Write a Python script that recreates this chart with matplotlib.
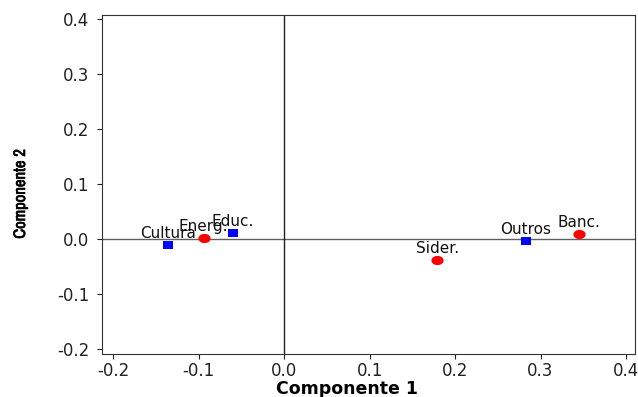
import matplotlib
matplotlib.use("Agg")
import numpy as np
import matplotlib.pyplot as plt
from matplotlib import font_manager
import matplotlib.patheffects as pe

labels = ["Cultura", "Energ.", "Educ.", "Sider.", "Outros", "Banc."]
comp1 = [-0.136, -0.094, -0.060, 0.179, 0.283, 0.345]
comp2 = [-0.011, 0.002, 0.011, -0.038, -0.004, 0.009]
kinds = ["s", "o", "s", "o", "s", "o"]
xticks = [-0.2, -0.1, 0.0, 0.1, 0.2, 0.3, 0.4]
yticks = [-0.2, -0.1, 0.0, 0.1, 0.2, 0.3, 0.4]

# wide markers (the reference is horizontally stretched)
sq_marker = [(-1.25, -1), (1.25, -1), (1.25, 1), (-1.25, 1), (-1.25, -1)]
th = np.linspace(0, 2 * np.pi, 61)
el_marker = list(zip(1.33 * np.cos(th), np.sin(th)))

fig = plt.figure(figsize=(6.38, 3.97), dpi=100)
ax = fig.add_axes([102/638, 1-354/397, (635-102)/638, (354-15)/397])

ax.axhline(0, color="#606060", lw=1, zorder=1)
ax.axvline(0, color="#202020", lw=1, zorder=1)

for x, y, k, t in zip(comp1, comp2, kinds, labels):
    if k == "s":
        ax.plot(x, y, marker=sq_marker, ms=7.3, color="#0000ff", mec="#0000ff", mew=0, ls="none", zorder=3)
    else:
        ax.plot(x, y, marker=el_marker, ms=8.8, color="#ff0000", mec="#ff0000", mew=0, ls="none", zorder=3)
    ax.annotate(t, (x, y), xytext=(0, 5.3), textcoords="offset points",
                ha="center", va="baseline", fontsize=11, color="#111111", zorder=2)

ax.set_xlim(-0.213, 0.4105)
ax.set_ylim(-0.209, 0.407)
ax.set_xticks(xticks)
ax.set_yticks(yticks)
ax.set_xticklabels([f"{v:.1f}" for v in xticks])
ax.set_yticklabels([f"{v:.1f}" for v in yticks])
ax.tick_params(direction="out", length=3.8, labelsize=12, top=False, right=False, colors="#222222")
ax.tick_params(axis="y", pad=5.5)
ax.tick_params(axis="x", pad=2.0)
for s in ax.spines.values():
    s.set_color("#333333")

ax.set_xlabel("Componente 1", fontsize=12.5, fontweight="bold")
ax.xaxis.set_label_coords((347-102)/533, (354-380.5)/339)

narrow = None
for f in font_manager.fontManager.ttflist:
    if "Narrow" in f.name:
        narrow = f.name
        break
fam = [narrow, "DejaVu Sans"] if narrow else ["DejaVu Sans"]
yl = ax.set_ylabel("Componente 2", fontsize=12, fontweight="bold", family=fam)
yl.set_path_effects([pe.withStroke(linewidth=0.5, foreground="black")])
ax.yaxis.set_label_coords((28-102)/533, (354-194)/339)

fig.savefig("out.png", dpi=100)
